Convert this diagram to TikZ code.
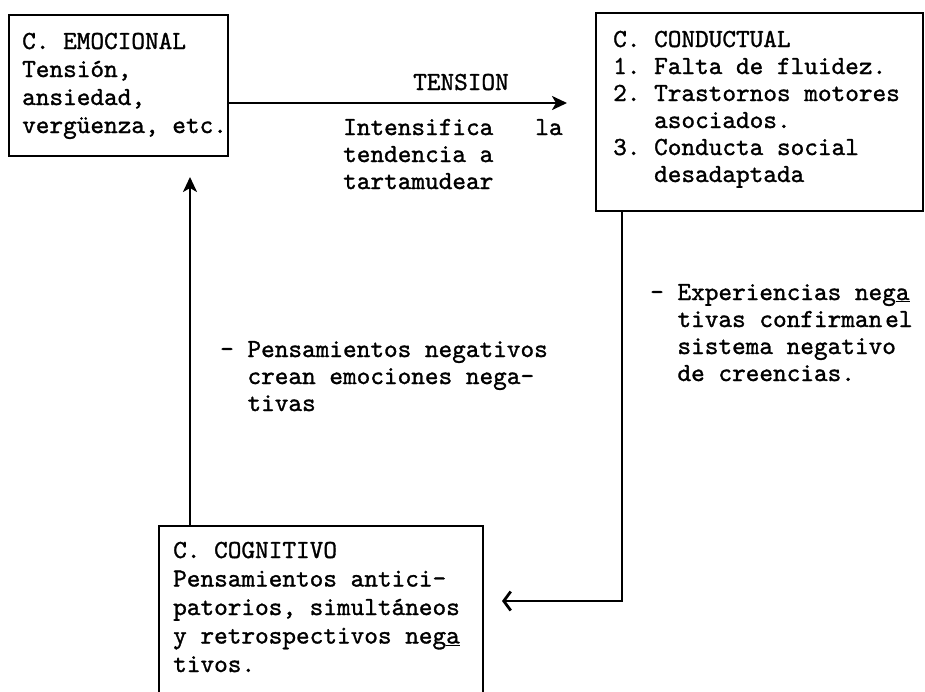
\documentclass[tikz,border=0pt]{standalone}
\usepackage{fontspec}
\setmonofont{lmmono10-regular.otf}[FakeBold=1.2]
\usetikzlibrary{arrows.meta}
\begin{document}
\begin{tikzpicture}[x=1pt,y=-1pt,
  box/.style={draw, line width=2.3pt, inner sep=0pt, anchor=north west},
  txt/.style={font=\fontsize{26}{28}\selectfont\ttfamily, align=left, inner sep=0pt, anchor=base west},
  lbl/.style={txt, font=\fontsize{26}{27}\selectfont\ttfamily},
  conn/.style={line width=2.5pt},
  tipS/.style={-{Stealth[length=15pt,width=14pt,inset=4pt]}},
  tipB/.style={-{Straight Barb[length=7pt,width=19pt,line width=2.8pt]}}]
\useasboundingbox (0,0) rectangle (925,691);
\clip (0,0) rectangle (925,691);
% boxes
\node[box, minimum width=219pt, minimum height=141pt] (emo) at (8,14) {};
\node[box, minimum width=327pt, minimum height=198pt] (cond) at (595,12) {};
\node[box, minimum width=324pt, minimum height=200pt] (cog) at (158,525) {};
% box texts (anchor = baseline of last line)
\node[txt] (emoT) at (22,133) {C. EMOCIONAL\\Tensión,\\ansiedad,\\vergüenza, etc.};
\node[txt, font=\fontsize{26}{27}\selectfont\ttfamily] (condT) at (613,182) {C. CONDUCTUAL\\1. Falta de fluidez.\\2. Trastornos motores\\\phantom{2.~}asociados.\\3. Conducta social\\\phantom{3.~}desadaptada};
\node[txt, font=\fontsize{26}{28.5}\selectfont\ttfamily] (cogT) at (173,672) {C. COGNITIVO\\Pensamientos antici-\\patorios, simultáneos\\y retrospectivos neg\underline{a}\\tivos.};
% labels
\node[lbl] (tens) at (413,90) {TENSION};
\node[lbl] (intens) at (343,189) {Intensifica\hspace{42pt}la\\tendencia a\\tartamudear};
\node[lbl] (pens) at (220,411) {- Pensamientos negativos\\\phantom{-~}crean emociones nega-\\\phantom{-~}tivas};
\node[lbl] (exper) at (650,381) {- Experiencias neg\underline{a}\\\phantom{-~}tivas confirman\hspace{3pt}el\\\phantom{-~}sistema negativo\\\phantom{-~}de creencias.};
% connectors
\coordinate (tensEnd) at (567,103);
\coordinate (upEnd) at (190,177);
\coordinate (cogIn) at (502,601);
\draw[conn, tipS] (emo.east |- tensEnd) -- (tensEnd);
\draw[conn, tipS] (cog.north -| upEnd) -- (upEnd);
\draw[conn, tipB] ([xshift=27pt]cond.south west) |- (cogIn);
\end{tikzpicture}
\end{document}
